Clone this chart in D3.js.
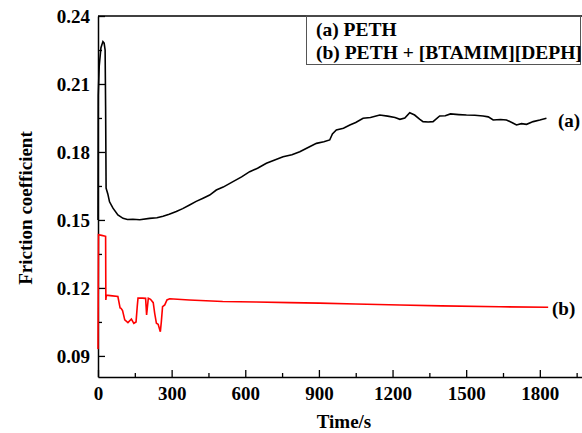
<!DOCTYPE html>
<html>
<head>
<meta charset="utf-8">
<script src="https://cdn.jsdelivr.net/npm/d3@7"></script>
<style>
    body { margin: 0; background: #fff; }
    svg { display: block; }
    text { font-family: "Liberation Serif", "Times New Roman", serif; font-weight: bold; }
</style>
</head>
<body>
<div id="chart"></div>
<script>
// curve (a) PETH
const timeA = [0, 1, 5, 12, 20, 25, 29, 31, 33, 40, 47, 61, 81, 102, 120, 142, 170, 210, 240, 265,
    290, 319, 345, 373, 400, 428, 455, 482, 510, 550, 585, 618, 650, 686, 720, 754, 790, 822, 860, 890,
    920, 944, 955, 971, 1000, 1026, 1050, 1080, 1110, 1148, 1180, 1210, 1230, 1250, 1270, 1290, 1310, 1324, 1345, 1365,
    1392, 1415, 1436, 1470, 1501, 1535, 1569, 1590, 1610, 1640, 1664, 1690, 1705, 1725, 1746, 1773, 1800, 1827];
const frictionA = [0.150, 0.205, 0.218, 0.226, 0.2287, 0.228, 0.225, 0.200, 0.164, 0.1615, 0.158, 0.1552, 0.1522, 0.1507, 0.1502, 0.1503, 0.1501, 0.1507, 0.1510, 0.1516,
    0.1525, 0.1537, 0.1550, 0.1566, 0.1582, 0.1596, 0.1610, 0.1632, 0.1645, 0.1669, 0.1690, 0.1713, 0.1728, 0.1750, 0.1765, 0.1779, 0.1788, 0.1801, 0.1822, 0.1838,
    0.1845, 0.1853, 0.1880, 0.1897, 0.1905, 0.1919, 0.1930, 0.1949, 0.1952, 0.1963, 0.1958, 0.1952, 0.1944, 0.1950, 0.1973, 0.1963, 0.1945, 0.1934, 0.1932, 0.1934,
    0.1959, 0.1960, 0.1968, 0.1965, 0.1963, 0.1962, 0.1959, 0.1955, 0.1941, 0.1943, 0.1941, 0.1928, 0.1919, 0.1925, 0.1922, 0.1934, 0.1941, 0.1949];

// curve (b) PETH + [BTAMIM][DEPH]
const timeB = [0, 2, 15, 31, 32, 34, 50, 81, 90, 94, 100, 109, 122, 136, 146, 155, 160, 163, 180, 194,
    198, 205, 214, 225, 231, 238, 245, 254, 258, 263, 272, 281, 292, 372, 508, 644, 780, 902, 1050, 1230,
    1400, 1637, 1834];
const frictionB = [0.093, 0.1435, 0.1432, 0.1428, 0.1147, 0.1168, 0.1166, 0.1162, 0.1112, 0.1110, 0.1100, 0.1059, 0.1047, 0.1063, 0.1044, 0.1050, 0.1120, 0.1155, 0.1155, 0.1154,
    0.1081, 0.1155, 0.1150, 0.1135, 0.1088, 0.1044, 0.1040, 0.1007, 0.1050, 0.1117, 0.1125, 0.1147, 0.1152, 0.1147, 0.1140, 0.1138, 0.1135, 0.1133, 0.1129, 0.1125,
    0.1121, 0.1117, 0.1115];

const xMajor = [0, 300, 600, 900, 1200, 1500, 1800];
const xMinor = [150, 450, 750, 1050, 1350, 1650, 1950];
const yMajor = [0.09, 0.12, 0.15, 0.18, 0.21, 0.24];
const yMinor = [0.105, 0.135, 0.165, 0.195, 0.225];
const legendLabels = ["(a) PETH", "(b) PETH + [BTAMIM][DEPH]"];

const width = 582;
const height = 433;
const plot = { left: 98, top: 16, right: 584, bottom: 377 };

const svg = d3.select("#chart")
    .append("svg")
    .attr("width", width)
    .attr("height", height);

const x = d3.scaleLinear().domain([0, 1980]).range([plot.left, plot.right]);
const y = d3.scaleLinear().domain([0.0807, 0.24]).range([plot.bottom, plot.top]);

// axes, ticks point inward
svg.append("g")
    .attr("transform", `translate(0,${plot.bottom})`)
    .call(d3.axisBottom(x).tickValues(xMajor).tickSizeInner(-7).tickSizeOuter(0).tickPadding(10).tickFormat(d3.format("d")));
svg.append("g")
    .attr("transform", `translate(0,${plot.bottom})`)
    .call(d3.axisBottom(x).tickValues(xMinor).tickSizeInner(-4).tickSizeOuter(0).tickFormat(""))
    .select(".domain").remove();

svg.append("g")
    .attr("transform", `translate(${plot.left},0)`)
    .call(d3.axisLeft(y).tickValues(yMajor).tickSizeInner(-7).tickSizeOuter(0).tickPadding(8).tickFormat(d3.format(".2f")));
svg.append("g")
    .attr("transform", `translate(${plot.left},0)`)
    .call(d3.axisLeft(y).tickValues(yMinor).tickSizeInner(-4).tickSizeOuter(0).tickFormat(""))
    .select(".domain").remove();

svg.selectAll(".domain").attr("stroke", "#000").attr("stroke-width", 1.5);
svg.selectAll(".tick line").attr("stroke", "#000").attr("stroke-width", 1.3);
svg.selectAll(".tick text")
    .attr("fill", "#000")
    .style("font-family", "'Liberation Serif', 'Times New Roman', serif")
    .style("font-weight", "bold")
    .style("font-size", "19px");

// top border
svg.append("line")
    .attr("x1", plot.left).attr("x2", plot.right)
    .attr("y1", plot.top).attr("y2", plot.top)
    .attr("stroke", "#000").attr("stroke-width", 1.3);

// legend box
svg.append("rect")
    .attr("x", 306.5).attr("y", plot.top)
    .attr("width", 274).attr("height", 48.5)
    .attr("fill", "none")
    .attr("stroke", "#555").attr("stroke-width", 1);

svg.selectAll("text.legend")
    .data(legendLabels)
    .enter()
    .append("text")
    .attr("class", "legend")
    .attr("x", 316)
    .attr("y", (d, i) => 36 + i * 23)
    .style("font-size", "19.5px")
    .text(d => d);

// curves
const line = d3.line()
    .x(d => x(d[0]))
    .y(d => y(d[1]));

svg.append("path")
    .datum(timeA.map((t, i) => [t, frictionA[i]]))
    .attr("fill", "none")
    .attr("stroke", "#000")
    .attr("stroke-width", 1.6)
    .attr("d", line);

svg.append("path")
    .datum(timeB.map((t, i) => [t, frictionB[i]]))
    .attr("fill", "none")
    .attr("stroke", "#ff0000")
    .attr("stroke-width", 1.6)
    .attr("d", line);

// curve labels
svg.append("text").attr("x", 558).attr("y", 127).style("font-size", "19px").text("(a)");
svg.append("text").attr("x", 552).attr("y", 315).style("font-size", "19px").text("(b)");

// axis titles
svg.append("text")
    .attr("x", 344).attr("y", 428)
    .attr("text-anchor", "middle")
    .style("font-size", "19px")
    .text("Time/s");

svg.append("text")
    .attr("transform", "translate(32,208) rotate(-90)")
    .attr("text-anchor", "middle")
    .style("font-size", "19px")
    .text("Friction coefficient");
</script>
</body>
</html>
